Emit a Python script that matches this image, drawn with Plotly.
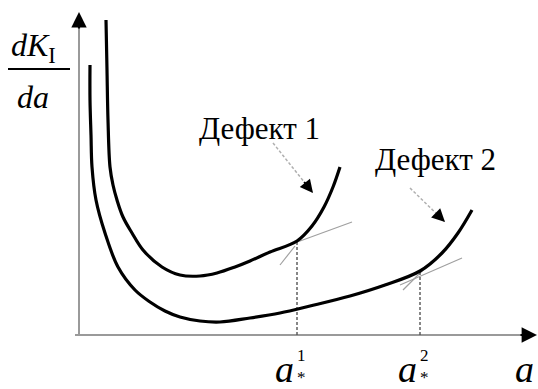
import plotly.graph_objects as go

# Crack length a (horizontal) and dK_I/da (vertical), arbitrary units, origin at axis corner
a_defect1 = [27, 28, 29, 31, 34, 38, 44, 53, 64, 83, 101, 121, 138, 156, 171, 191, 218, 233, 245, 254, 261]
k_defect1 = [315, 265, 215, 168, 150, 135, 118, 102, 85, 68, 60, 59, 62, 68, 74, 83, 94, 109, 128, 148, 168]

a_defect2 = [11, 11, 12, 13, 17, 26, 39, 56, 71, 86, 101, 121, 141, 171, 201, 231, 271, 306, 341, 363, 379, 393]
k_defect2 = [270, 235, 200, 168, 135, 102, 68, 45, 33, 24, 18, 14, 13, 17, 22, 29, 39, 50, 64, 82, 102, 125]

# critical lengths a*^1, a*^2 and curve values there
a_star = [218, 341]
k_star = [94, 64]
a_star_names = ["1", "2"]

# tangent segments at the critical points (start/end)
tan_long_a = [[191, 273], [321, 383]]
tan_long_k = [[83, 113], [50, 77]]
tan_short_a = [[201, 216], [324, 344]]
tan_short_k = [[70, 89], [45, 65]]

# label leader arrows (from label toward curve)
lead_a = [[194, 234], [331, 366]]
lead_k = [[192, 142], [147, 113]]

labels = ["Дефект 1", "Дефект 2"]
label_pos = [(180, 207), (356, 176)]

SERIF = "Liberation Serif, Times New Roman, serif"
AXIS_GRAY = "#9a9a9a"
H = 389

fig = go.Figure()

# axes
fig.add_trace(go.Scatter(x=[0, 0], y=[0, 312], mode="lines",
                         line=dict(color=AXIS_GRAY, width=2), hoverinfo="skip"))
fig.add_trace(go.Scatter(x=[-4, 450], y=[0, 0], mode="lines",
                         line=dict(color=AXIS_GRAY, width=2), hoverinfo="skip"))

# tangent lines
for ta, tk in zip(tan_long_a + tan_short_a, tan_long_k + tan_short_k):
    fig.add_trace(go.Scatter(x=ta, y=tk, mode="lines",
                             line=dict(color="#a0a0a0", width=1.2), hoverinfo="skip"))

# dashed drop lines to a*
for xa, yk in zip(a_star, k_star):
    fig.add_trace(go.Scatter(x=[xa, xa], y=[0, yk], mode="lines",
                             line=dict(color="#555555", width=1.4, dash="3px,2px"),
                             hoverinfo="skip"))

# curves
for xa, yk in [(a_defect1, k_defect1), (a_defect2, k_defect2)]:
    fig.add_trace(go.Scatter(x=xa, y=yk, mode="lines",
                             line=dict(color="black", width=3.2, shape="spline", smoothing=1.0),
                             hoverinfo="skip"))

# leader lines (dashed gray)
for la, lk in zip(lead_a, lead_k):
    fig.add_trace(go.Scatter(x=la, y=lk, mode="lines",
                             line=dict(color="#b0b0b0", width=1.5, dash="3px,2px"),
                             hoverinfo="skip"))

annotations = []
# arrow heads for leaders
for la, lk in zip(lead_a, lead_k):
    annotations.append(dict(x=la[1], y=lk[1], ax=la[1] - (la[1] - la[0]) * 0.25,
                            ay=lk[1] - (lk[1] - lk[0]) * 0.25, xref="x", yref="y",
                            axref="x", ayref="y", showarrow=True, arrowhead=2,
                            arrowsize=1.3, arrowwidth=2, arrowcolor="black", text=""))
# axis arrow heads
annotations.append(dict(x=0, y=323, ax=0, ay=305, xref="x", yref="y", axref="x", ayref="y",
                        showarrow=True, arrowhead=2, arrowsize=1.4, arrowwidth=2.2,
                        arrowcolor="black", text=""))
annotations.append(dict(x=458, y=0, ax=440, ay=0, xref="x", yref="y", axref="x", ayref="y",
                        showarrow=True, arrowhead=2, arrowsize=1.4, arrowwidth=2.2,
                        arrowcolor="black", text=""))

# curve labels
for txt, (lx, ly) in zip(labels, label_pos):
    annotations.append(dict(x=lx, y=ly, xref="x", yref="y", text=txt, showarrow=False,
                            font=dict(family=SERIF, size=31, color="black"),
                            xanchor="center", yanchor="middle"))

# y-axis label as a fraction dK_I / da
annotations.append(dict(x=-46, y=288, xref="x", yref="y", showarrow=False,
                        text="<i>dK</i><sub>I</sub>",
                        font=dict(family=SERIF, size=32, color="black"),
                        xanchor="center", yanchor="middle"))
annotations.append(dict(x=-46, y=238, xref="x", yref="y", showarrow=False,
                        text="<i>da</i>",
                        font=dict(family=SERIF, size=32, color="black"),
                        xanchor="center", yanchor="middle"))


def py(v):
    # pixel row from the top -> paper fraction
    return (H - v) / H


# x-axis labels a*^1, a*^2 (index stacked over the star) and a
for xa, n in zip(a_star, a_star_names):
    annotations.append(dict(x=xa - 13, y=py(369), xref="x", yref="paper", showarrow=False,
                            text="<i>a</i>", font=dict(family=SERIF, size=38, color="black"),
                            xanchor="center", yanchor="middle"))
    annotations.append(dict(x=xa - 2, y=0, xref="x", yref="paper", showarrow=False,
                            text=n + "<br>*", font=dict(family=SERIF, size=17, color="black"),
                            xanchor="left", yanchor="bottom", align="center"))
annotations.append(dict(x=457, y=py(369), xref="x", yref="paper", showarrow=False,
                        text="<i>a</i>", font=dict(family=SERIF, size=38, color="black"),
                        xanchor="right", yanchor="middle"))

shapes = [dict(type="line", xref="x", yref="y", x0=-71, x1=-9, y0=266, y1=266,
               line=dict(color="black", width=2))]

fig.update_layout(
    width=538, height=389,
    margin=dict(l=0, r=0, t=0, b=0),
    paper_bgcolor="white", plot_bgcolor="white",
    showlegend=False,
    xaxis=dict(range=[-79, 459], visible=False, fixedrange=True),
    yaxis=dict(range=[-54, 335], visible=False, fixedrange=True),
    annotations=annotations, shapes=shapes,
)

fig.write_html("out.html")
